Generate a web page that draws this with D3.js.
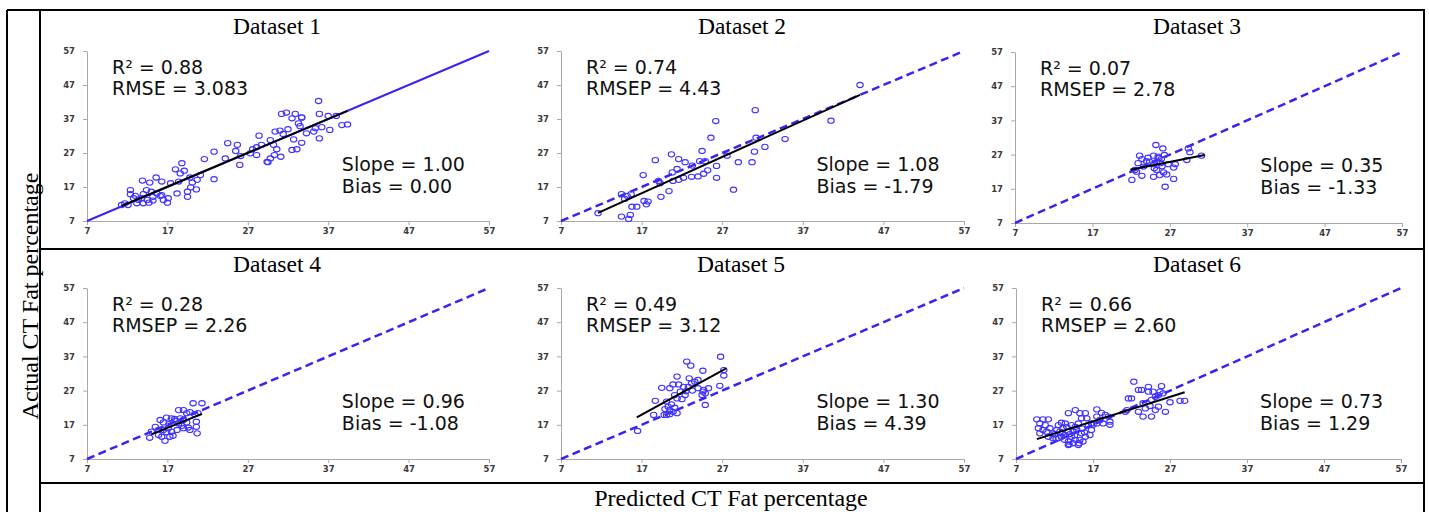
<!DOCTYPE html>
<html>
<head>
<meta charset="utf-8">
<script src="https://cdn.jsdelivr.net/npm/d3@7"></script>
<style>
body { margin: 0; background: #fff; }
</style>
</head>
<body>
<div id="chart"></div>
<script>
'use strict';

// chart values
var titles = ['Dataset 1', 'Dataset 2', 'Dataset 3', 'Dataset 4', 'Dataset 5', 'Dataset 6'];
var r2Values = ['0.88', '0.74', '0.07', '0.28', '0.49', '0.66'];
var errorNames = ['RMSE', 'RMSEP', 'RMSEP', 'RMSEP', 'RMSEP', 'RMSEP'];
var errorValues = ['3.083', '4.43', '2.78', '2.26', '3.12', '2.60'];
var slopeValues = ['1.00', '1.08', '0.35', '0.96', '1.30', '0.73'];
var biasValues = ['0.00', '-1.79', '-1.33', '-1.08', '4.39', '1.29'];
var axisTicks = [7, 17, 27, 37, 47, 57];
var identityEnds = [7, 57];

// regression line ends [predicted, actual]
var fitLines = [
    [[11.3, 11.4], [39.4, 39.4]],
    [[11.6, 9.4], [44.1, 44.1]],
    [[21.9, 22.6], [31.5, 26.9]],
    [[15.0, 14.2], [21.3, 20.2]],
    [[16.4, 19.2], [27.5, 33.5]],
    [[9.7, 12.8], [28.9, 26.5]]
];

// points [predicted, actual]
var dataset1 = [
    [35.8, 42.3], [35.9, 38.5], [31.2, 38.5], [31.8, 38.9], [32.9, 38.5], [33.7, 37.5], [32.5, 37.2], [33.3, 35.7],
    [33.5, 34.9], [37.0, 37.9], [38.0, 37.9], [38.7, 35.2], [39.4, 35.4], [36.2, 34.6], [37.2, 33.8], [35.4, 34.3],
    [35.2, 33.3], [34.3, 32.8], [35.9, 31.3], [33.7, 30.0], [32.7, 31.0], [32.5, 27.9], [33.1, 28.1], [32.0, 34.0],
    [31.0, 33.6], [30.4, 33.3], [31.4, 32.6], [29.8, 30.8], [28.4, 32.1], [30.2, 29.4], [30.6, 28.1], [31.1, 25.9],
    [30.3, 26.4], [29.8, 25.4], [29.4, 24.4], [28.7, 29.4], [28.1, 28.7], [27.6, 28.1], [27.3, 26.9], [28.1, 26.4],
    [25.7, 29.4], [25.5, 27.6], [26.1, 26.1], [26.0, 23.5], [24.5, 29.9], [24.2, 25.4], [22.8, 27.4], [21.6, 25.2],
    [22.8, 19.3], [18.8, 24.0], [18.0, 22.2], [19.1, 21.8], [18.6, 21.0], [19.8, 19.8], [21.1, 20.5], [20.7, 19.1],
    [20.1, 18.3], [19.9, 16.9], [20.6, 16.3], [19.5, 15.6], [19.5, 14.1], [17.4, 18.1], [18.4, 18.6], [18.2, 15.1],
    [17.1, 13.7], [17.0, 12.4], [16.3, 14.6], [16.5, 13.2], [15.6, 19.8], [16.3, 18.6], [14.8, 18.3], [13.9, 18.9],
    [14.4, 16.1], [15.0, 15.6], [14.0, 14.9], [15.2, 14.1], [15.7, 15.1], [13.8, 13.7], [14.5, 13.2], [15.2, 13.0],
    [13.4, 13.2], [12.8, 13.7], [12.4, 16.1], [12.4, 14.9], [13.0, 14.4], [11.7, 12.2], [12.1, 11.7], [13.2, 12.2],
    [14.0, 12.2], [14.7, 12.4], [11.3, 11.7], [16.1, 14.4], [33.7, 37.4], [29.5, 24.3]
];
var dataset2 = [
    [44.1, 47.0], [31.1, 39.6], [26.2, 36.4], [40.5, 36.5], [25.6, 31.5], [31.2, 31.5], [34.8, 31.1], [32.3, 28.8],
    [31.0, 27.4], [27.6, 26.2], [29.0, 24.3], [30.7, 24.3], [28.4, 16.2], [26.3, 19.7], [26.3, 23.2], [24.5, 27.6],
    [24.2, 24.6], [24.9, 24.6], [23.3, 23.3], [25.2, 21.9], [24.7, 20.9], [24.0, 20.1], [23.2, 20.0], [22.2, 19.7],
    [21.6, 19.1], [20.9, 18.8], [21.4, 22.3], [20.8, 21.3], [20.7, 26.6], [21.6, 25.2], [22.4, 24.3], [18.7, 24.9],
    [17.2, 20.5], [19.1, 18.8], [19.3, 18.1], [20.4, 15.8], [19.4, 14.1], [17.8, 12.7], [17.6, 11.9], [17.3, 12.9],
    [16.4, 11.2], [15.8, 11.2], [14.5, 14.9], [15.2, 14.4], [15.7, 14.9], [14.9, 13.5], [14.5, 8.3], [15.6, 8.8],
    [15.4, 7.6], [11.6, 9.3]
];
var dataset3 = [
    [25.2, 29.8], [26.1, 28.8], [29.4, 28.8], [29.6, 27.7], [31.1, 26.7], [23.1, 26.7], [23.4, 25.7], [24.2, 26.1],
    [24.0, 25.1], [24.9, 26.7], [25.5, 26.4], [25.9, 25.7], [25.3, 24.9], [25.8, 24.5], [24.9, 24.2], [24.4, 24.9],
    [26.8, 24.2], [27.7, 24.2], [27.5, 23.2], [29.2, 25.4], [22.5, 22.5], [22.7, 22.0], [23.4, 20.8], [22.1, 19.6],
    [24.9, 20.5], [25.3, 22.5], [25.7, 21.0], [26.2, 21.8], [26.6, 21.2], [27.5, 19.9], [26.4, 17.6], [22.9, 24.5],
    [23.6, 23.5], [25.0, 23.0], [26.0, 23.6], [25.6, 26.0], [26.3, 26.9]
];
var dataset4 = [
    [20.2, 23.3], [21.3, 23.3], [18.4, 21.3], [19.0, 21.3], [19.4, 20.4], [19.8, 20.7], [20.4, 20.1], [20.8, 20.4],
    [16.1, 18.4], [16.9, 19.1], [17.5, 18.9], [17.9, 18.7], [16.5, 17.7], [18.6, 18.9], [19.0, 18.4], [18.4, 17.4],
    [18.8, 16.7], [19.4, 17.7], [20.6, 16.4], [15.5, 16.4], [15.0, 15.0], [15.9, 15.5], [16.5, 15.5], [17.1, 16.0],
    [16.9, 14.8], [17.5, 15.0], [18.2, 15.5], [19.0, 16.0], [19.6, 16.2], [19.8, 15.5], [14.8, 13.2], [15.9, 14.0],
    [16.3, 13.5], [17.3, 13.5], [17.7, 13.8], [16.7, 12.3], [20.7, 14.5], [20.6, 17.9], [18.0, 18.2], [17.2, 17.2]
];
var dataset5 = [
    [26.8, 36.9], [22.6, 35.5], [23.1, 34.3], [24.6, 32.8], [27.2, 33.0], [27.2, 31.4], [26.7, 28.4], [21.4, 31.1],
    [22.9, 30.6], [23.6, 29.6], [24.0, 30.1], [20.9, 28.8], [21.6, 28.8], [22.2, 28.1], [22.8, 28.1], [23.2, 29.1],
    [19.5, 27.8], [20.5, 27.7], [24.0, 27.7], [24.7, 27.2], [25.3, 27.7], [24.9, 26.2], [24.5, 25.7], [21.1, 25.7],
    [21.8, 26.7], [22.4, 25.7], [22.0, 24.5], [21.4, 24.7], [18.7, 24.0], [20.1, 23.8], [20.7, 23.0], [20.3, 22.3],
    [19.9, 21.6], [20.5, 21.3], [21.1, 22.0], [20.9, 20.8], [20.1, 19.9], [20.5, 20.1], [21.4, 20.4], [24.9, 22.8],
    [18.5, 19.9], [19.8, 19.9], [16.5, 15.2], [24.6, 26.7], [23.3, 27.0], [22.5, 26.8]
];
var dataset6 = [
    [22.3, 29.6], [22.9, 27.2], [23.3, 27.2], [24.2, 28.1], [24.2, 26.7], [24.8, 26.7], [25.9, 28.3], [25.7, 26.7],
    [25.5, 25.7], [26.1, 26.2], [21.6, 24.7], [22.0, 24.7], [25.1, 25.2], [24.6, 24.3], [27.0, 23.6], [28.3, 24.0],
    [28.9, 24.0], [23.5, 23.3], [23.8, 21.8], [24.4, 22.5], [22.9, 20.8], [23.5, 19.4], [24.6, 19.4], [25.1, 21.3],
    [25.5, 22.3], [26.4, 20.8], [21.2, 20.8], [21.4, 21.3], [17.5, 21.5], [18.1, 20.5], [18.6, 19.9], [13.8, 20.4],
    [14.7, 21.3], [15.3, 20.4], [16.0, 20.4], [16.2, 18.9], [15.5, 18.9], [17.5, 19.4], [17.9, 18.4], [19.0, 19.4],
    [19.2, 17.9], [19.2, 17.0], [18.3, 17.4], [17.5, 17.4], [17.0, 17.0], [16.8, 15.5], [16.6, 14.0], [15.5, 14.5],
    [16.0, 13.5], [15.3, 12.6], [15.7, 12.1], [14.7, 12.6], [14.2, 13.5], [13.8, 12.1], [14.4, 11.6], [15.1, 11.1],
    [13.8, 11.1], [9.7, 18.6], [10.5, 18.6], [11.2, 18.6], [10.1, 17.4], [10.8, 16.9], [9.9, 16.0], [10.5, 15.5],
    [11.0, 15.0], [10.1, 14.5], [11.4, 16.0], [11.8, 14.5], [11.2, 13.5], [12.5, 16.9], [12.9, 17.6], [13.4, 17.4],
    [13.6, 16.4], [13.1, 16.0], [12.7, 15.0], [12.3, 15.5], [13.8, 15.0], [13.4, 14.0], [12.9, 13.5], [12.5, 13.1],
    [11.8, 13.1], [14.2, 16.9], [14.7, 16.4], [15.1, 17.4], [14.9, 15.5], [14.4, 15.0], [16.8, 17.4], [16.4, 16.9],
    [15.2, 11.6], [13.9, 11.3], [12.0, 14.2], [13.0, 14.6], [14.0, 14.3], [15.6, 15.9], [15.9, 14.8], [13.3, 12.6],
    [14.6, 13.9], [12.2, 12.9]
];
var datasets = [dataset1, dataset2, dataset3, dataset4, dataset5, dataset6];

var width = 1429,
    height = 512;

var blue = '#3b22f2',
    markBlue = '#4033ff';

// plot boxes, one per panel
var boxes = [
    {x0: 87, x1: 489, y0: 51, y1: 221, tx: 277, ty: 34},
    {x0: 561, x1: 964, y0: 51, y1: 221, tx: 742, ty: 34},
    {x0: 1015, x1: 1402, y0: 52, y1: 223, tx: 1197, ty: 34},
    {x0: 87, x1: 489, y0: 288, y1: 459, tx: 277, ty: 272},
    {x0: 561, x1: 964, y0: 288, y1: 459, tx: 741, ty: 272},
    {x0: 1016, x1: 1401, y0: 288, y1: 459, tx: 1197, ty: 272}
];

var svg = d3.select('#chart').append('svg')
    .attr('width', width)
    .attr('height', height)
    .style('display', 'block');

svg.append('rect').attr('width', width).attr('height', height).attr('fill', '#fff');

datasets.forEach(function(points, i) {
    var b = boxes[i];
    var x = d3.scaleLinear().domain([7, 57]).range([b.x0, b.x1]);
    var y = d3.scaleLinear().domain([7, 57]).range([b.y1, b.y0]);
    var g = svg.append('g');

    g.append('text')
        .attr('x', b.tx).attr('y', b.ty)
        .attr('text-anchor', 'middle')
        .style('font-family', '"Liberation Serif", "Times New Roman", serif')
        .style('font-size', '23.5px')
        .text(titles[i]);

    var xAxis = g.append('g')
        .attr('transform', 'translate(0,' + b.y1 + ')')
        .call(d3.axisBottom(x).tickValues(axisTicks).tickSize(4).tickSizeOuter(0).tickPadding(3));
    var yAxis = g.append('g')
        .attr('transform', 'translate(' + b.x0 + ',0)')
        .call(d3.axisLeft(y).tickValues(axisTicks).tickSize(4).tickSizeOuter(0).tickPadding(8));

    [xAxis, yAxis].forEach(function(a) {
        a.selectAll('path, line').attr('stroke', '#a8a8a8');
        a.selectAll('text')
            .attr('fill', '#3a3a3a')
            .style('font-family', '"DejaVu Sans", sans-serif')
            .style('font-weight', 'bold')
            .style('font-size', '8.5px');
    });

    var line = d3.line()
        .x(function(d) { return x(d); })
        .y(function(d) { return y(d); });

    g.append('path')
        .attr('d', line(identityEnds))
        .attr('fill', 'none')
        .attr('stroke', blue)
        .attr('stroke-width', i === 0 ? 2 : 2.5)
        .attr('stroke-dasharray', i === 0 ? null : '8,4.5');

    g.selectAll('ellipse')
        .data(points)
        .enter().append('ellipse')
        .attr('cx', function(d) { return x(d[0]); })
        .attr('cy', function(d) { return y(d[1]); })
        .attr('rx', 3.2)
        .attr('ry', 2.6)
        .attr('fill', 'none')
        .attr('stroke', markBlue)
        .attr('stroke-width', 1.1);

    var fit = d3.line()
        .x(function(d) { return x(d[0]); })
        .y(function(d) { return y(d[1]); });

    g.append('path')
        .attr('d', fit(fitLines[i]))
        .attr('fill', 'none')
        .attr('stroke', '#000')
        .attr('stroke-width', 2);

    var lx = b.x0 + 25,
        rx = b.x0 + 0.634 * (b.x1 - b.x0);
    var notes = [
        [lx, b.y0 + 23, 'R\u00b2 = ' + r2Values[i]],
        [lx, b.y0 + 44, errorNames[i] + ' = ' + errorValues[i]],
        [rx, b.y0 + 120, 'Slope = ' + slopeValues[i]],
        [rx, b.y0 + 142, 'Bias = ' + biasValues[i]]
    ];
    g.selectAll('text.note')
        .data(notes)
        .enter().append('text')
        .attr('class', 'note')
        .attr('x', function(d) { return d[0]; })
        .attr('y', function(d) { return d[1]; })
        .style('font-family', '"DejaVu Sans", sans-serif')
        .style('font-size', '19px')
        .attr('fill', '#111')
        .text(function(d) { return d[2]; });
});

// table frame
var frame = [
    [7, 10, 1425, 10],
    [7, 10, 7, 512],
    [40, 10, 40, 512],
    [1424, 10, 1424, 512],
    [40, 249, 1424, 249],
    [40, 483, 1424, 483]
];
svg.append('g').selectAll('line')
    .data(frame)
    .enter().append('line')
    .attr('x1', function(d) { return d[0]; })
    .attr('y1', function(d) { return d[1]; })
    .attr('x2', function(d) { return d[2]; })
    .attr('y2', function(d) { return d[3]; })
    .attr('stroke', '#000')
    .attr('stroke-width', 2);

svg.append('text')
    .attr('transform', 'translate(38,296) rotate(-90)')
    .attr('text-anchor', 'middle')
    .style('font-family', '"Liberation Serif", "Times New Roman", serif')
    .style('font-size', '24px')
    .text('Actual CT Fat percentage');

svg.append('text')
    .attr('x', 731).attr('y', 506)
    .attr('text-anchor', 'middle')
    .style('font-family', '"Liberation Serif", "Times New Roman", serif')
    .style('font-size', '24px')
    .text('Predicted CT Fat percentage');
</script>
</body>
</html>
